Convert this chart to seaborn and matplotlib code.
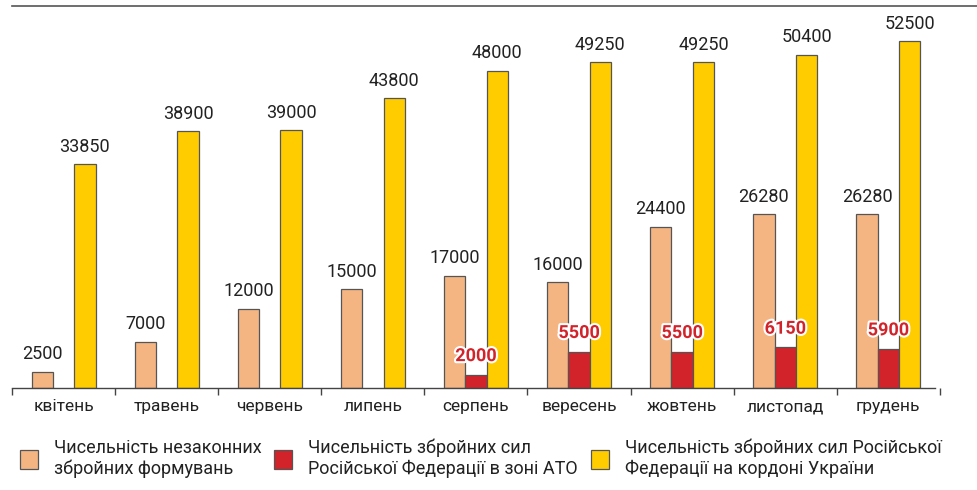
import numpy as np
import pandas as pd
import matplotlib

matplotlib.use("Agg")

import matplotlib.pyplot as plt
import matplotlib.patheffects as pe
import seaborn as sns

# ============================================================
# DATA
# ============================================================

MONTHS = ["квітень", "травень", "червень", "липень", "серпень",
          "вересень", "жовтень", "листопад", "грудень"]

ILLEGAL   = [2500, 7000, 12000, 15000, 17000, 16000, 24400, 26280, 26280]
RF_ATO    = [np.nan, np.nan, np.nan, np.nan, 2000, 5500, 5500, 6150, 5900]
RF_BORDER = [33850, 38900, 39000, 43800, 48000, 49250, 49250, 50400, 52500]

SERIES = [
    "Чисельність незаконних\nзбройних формувань",
    "Чисельність збройних сил\nРосійської Федерації в зоні АТО",
    "Чисельність збройних сил Російської\nФедерації на кордоні України",
]
COLORS = ["#F4B583", "#D2232A", "#FFCC00"]

# ============================================================
# PLOT
# ============================================================

sns.set_style("white")
plt.rcParams["font.family"] = ["Roboto", "DejaVu Sans"]

df = pd.concat([
    pd.DataFrame({"month": MONTHS, "series": name, "value": vals})
    for name, vals in zip(SERIES, [ILLEGAL, RF_ATO, RF_BORDER])
], ignore_index=True)

fig = plt.figure(figsize=(9.77, 4.90), dpi=100)
ax = fig.add_axes([0.0123, 0.208, 0.9877, 0.780])

sns.barplot(data=df, x="month", y="value", hue="series",
            hue_order=SERIES, order=MONTHS, palette=COLORS, saturation=1,
            width=0.62, gap=0, edgecolor="#555555", linewidth=0.9,
            errorbar=None, ax=ax)

ax.set_xlim(-0.46, 8.86)
ax.set_ylim(0, 57800)

for i, cont in enumerate(ax.containers):
    if i == 1:
        txts = ax.bar_label(cont, fmt="%d", padding=7, fontsize=13,
                            fontweight="bold", color="#D2232A")
        for t in txts:
            t.set_path_effects([pe.withStroke(linewidth=3, foreground="white")])
    else:
        ax.bar_label(cont, fmt="%d", padding=6, fontsize=13, color="#222222")

# axes styling
for side in ("left", "right"):
    ax.spines[side].set_visible(False)
ax.spines["top"].set_color("#555555")
ax.spines["top"].set_linewidth(1.2)
ax.spines["bottom"].set_color("#444444")
ax.spines["bottom"].set_linewidth(1.0)
ax.spines["bottom"].set_bounds(-0.5, 8.45)

ax.set_xticks(np.arange(-0.5, 8.6, 1.0), minor=True)
ax.tick_params(axis="x", which="minor", length=5, width=1, color="#444444",
               direction="out", bottom=True)
ax.tick_params(axis="x", which="major", length=0, pad=8, labelsize=12.5,
               labelcolor="#222222")
ax.set_yticks([])
ax.set_xlabel("")
ax.set_ylabel("")

ax.legend_.remove()
handles = [plt.Rectangle((0, 0), 1, 1, facecolor=c, edgecolor="#555555",
                         linewidth=0.9) for c in COLORS]
fig.legend(handles, SERIES, loc="upper left", bbox_to_anchor=(0.02, 0.105),
           ncol=3, frameon=False, fontsize=13, handlelength=1.0,
           handleheight=1.25, handletextpad=0.9, columnspacing=0.7,
           labelcolor="#222222", borderaxespad=0, borderpad=0,
           labelspacing=0.2)

plt.savefig("out.png", dpi=100)
plt.close()
